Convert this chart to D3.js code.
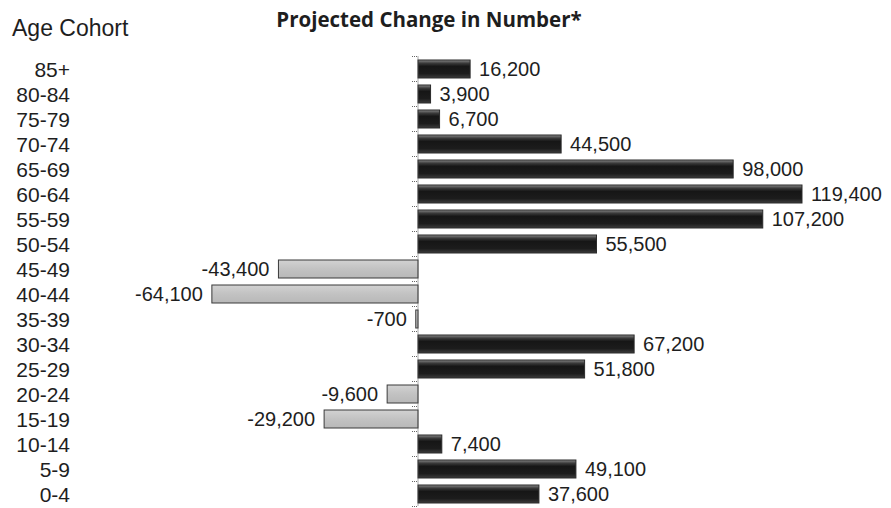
<!DOCTYPE html>
<html>
<head>
<meta charset="utf-8">
<script src="https://cdn.jsdelivr.net/npm/d3@7/dist/d3.min.js"></script>
<style>
  html, body { margin: 0; padding: 0; background: #fff; }
  svg { display: block; }
  text { font-family: "Liberation Sans", Arial, sans-serif; fill: #1e1e1e; }
</style>
</head>
<body>
<svg id="chart" width="891" height="508"></svg>
<script>
const categories = ["85+","80-84","75-79","70-74","65-69","60-64","55-59","50-54","45-49","40-44","35-39","30-34","25-29","20-24","15-19","10-14","5-9","0-4"];
const values = [16200, 3900, 6700, 44500, 98000, 119400, 107200, 55500, -43400, -64100, -700, 67200, 51800, -9600, -29200, 7400, 49100, 37600];
const title = "Projected Change in Number*";
const axisTitle = "Age Cohort";

const svg = d3.select("#chart");

const x = d3.scaleLinear().domain([-70000, 125000]).range([192.9, 820]);
const y = d3.scaleBand().domain(categories).range([53, 510]).paddingInner(0.28).paddingOuter(0.28);

const fmt = d3.formatLocale({ decimal: ".", thousands: ",", grouping: [3], currency: ["", ""], minus: "-" }).format(",");

// gradients
const defs = svg.append("defs");
const gPos = defs.append("linearGradient").attr("id", "gpos").attr("x1", 0).attr("y1", 0).attr("x2", 0).attr("y2", 1);
[[0, "#8a8a8a"], [0.18, "#3a3a3a"], [0.35, "#161616"], [0.75, "#1c1c1c"], [1, "#3c3c3c"]].forEach(([o, c]) =>
  gPos.append("stop").attr("offset", o).attr("stop-color", c));
const gNeg = defs.append("linearGradient").attr("id", "gneg").attr("x1", 0).attr("y1", 0).attr("x2", 0).attr("y2", 1);
[[0, "#d2d2d2"], [0.5, "#c2c2c2"], [1, "#b8b8b8"]].forEach(([o, c]) =>
  gNeg.append("stop").attr("offset", o).attr("stop-color", c));

const data = categories.map((c, i) => ({ c, v: values[i] }));

// bars
svg.append("g").selectAll("rect").data(data).join("rect")
  .attr("x", d => x(Math.min(0, d.v)))
  .attr("y", d => y(d.c))
  .attr("width", d => Math.max(1, Math.abs(x(d.v) - x(0))))
  .attr("height", y.bandwidth())
  .attr("fill", d => d.v >= 0 ? "url(#gpos)" : "url(#gneg)")
  .attr("stroke", d => d.v >= 0 ? "#2a2a2a" : "#3a3a3a")
  .attr("stroke-width", 1);

// zero axis (dotted) with ticks
const axisG = svg.append("g").attr("transform", `translate(${x(0)},0)`);
const tickYs = categories.map(c => y(c) - y.step() * 0.14);
tickYs.push(y(categories[categories.length - 1]) + y.bandwidth() + y.step() * 0.14);
axisG.append("line").attr("x1", 0).attr("x2", 0).attr("y1", tickYs[0]).attr("y2", tickYs[tickYs.length - 1])
  .attr("stroke", "#555").attr("stroke-width", 1).attr("stroke-dasharray", "1,1");
axisG.selectAll("line.tk").data(tickYs).join("line").attr("class", "tk")
  .attr("x1", -6).attr("x2", 0).attr("y1", d => d).attr("y2", d => d)
  .attr("stroke", "#666").attr("stroke-width", 1).attr("stroke-dasharray", "1,1");

// category labels
svg.append("g").selectAll("text").data(categories).join("text")
  .attr("x", 70).attr("y", d => y(d) + y.bandwidth() / 2)
  .attr("dy", "0.36em").attr("text-anchor", "end")
  .style("font-size", "21px")
  .text(d => d);

// value labels
svg.append("g").selectAll("text").data(data).join("text")
  .attr("x", d => d.v >= 0 ? x(d.v) + 9 : x(d.v) - 9)
  .attr("y", d => y(d.c) + y.bandwidth() / 2)
  .attr("dy", "0.36em")
  .attr("text-anchor", d => d.v >= 0 ? "start" : "end")
  .style("font-size", "20px")
  .text(d => fmt(d.v));

// titles
svg.append("text").attr("x", 12).attr("y", 36).style("font-size", "23px").text(axisTitle);
svg.append("text").attr("x", 429).attr("y", 27).attr("text-anchor", "middle")
  .style("font-family", "'Open Sans', sans-serif")
  .style("font-size", "20.5px").style("font-weight", "bold").text(title);
</script>
</body>
</html>
